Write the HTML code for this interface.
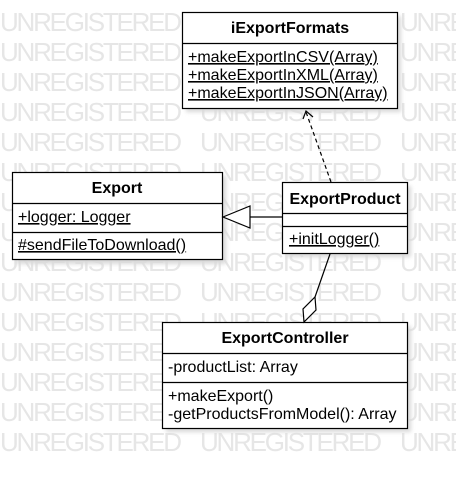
<!DOCTYPE html>
<html><head><style>
html,body{margin:0;padding:0;background:#fff;width:456px;height:478px;overflow:hidden}
svg{display:block}
.wm{font-family:"Liberation Sans",sans-serif;font-size:26px;fill:#e6e6e6}
.t{font-family:"Liberation Sans",sans-serif;font-size:16px;fill:#000}
.b{font-weight:bold;text-anchor:middle}
</style></head><body>
<svg width="456" height="478" viewBox="0 0 456 478" xmlns="http://www.w3.org/2000/svg">
<defs><filter id="sh" x="-10%" y="-10%" width="130%" height="130%"><feGaussianBlur stdDeviation="2"/></filter>
<g id="row"><text x="0" y="0" textLength="182" lengthAdjust="spacing">UNREGISTERED</text><text x="200" y="0" textLength="182" lengthAdjust="spacing">UNREGISTERED</text><text x="400" y="0" textLength="182" lengthAdjust="spacing">UNREGISTERED</text></g></defs>
<g class="wm">
<use href="#row" y="31"/><use href="#row" y="61"/><use href="#row" y="91"/><use href="#row" y="121"/><use href="#row" y="151"/><use href="#row" y="181"/><use href="#row" y="211"/><use href="#row" y="241"/><use href="#row" y="271"/><use href="#row" y="301"/><use href="#row" y="331"/><use href="#row" y="361"/><use href="#row" y="391"/><use href="#row" y="421"/><use href="#row" y="451"/>
</g>
<g fill="#d8d8d8" filter="url(#sh)">
<rect x="186" y="16" width="215" height="96"/>
<rect x="16" y="176" width="210" height="88"/>
<rect x="286" y="186" width="125" height="71"/>
<rect x="166" y="326" width="245" height="106"/>
</g>
<g stroke="#000" stroke-width="1.2" fill="#fff">
<rect x="182.5" y="12.5" width="215" height="96"/>
<line x1="182" y1="43.5" x2="397" y2="43.5"/>
<rect x="12.5" y="172.5" width="210" height="87"/>
<line x1="12" y1="203.5" x2="222" y2="203.5"/>
<line x1="12" y1="232.5" x2="222" y2="232.5"/>
<rect x="282.5" y="182.5" width="125" height="71"/>
<line x1="282" y1="213.5" x2="407" y2="213.5"/>
<line x1="282" y1="226.5" x2="407" y2="226.5"/>
<rect x="162.5" y="322.5" width="245" height="106"/>
<line x1="162" y1="353.5" x2="407" y2="353.5"/>
<line x1="162" y1="382.5" x2="407" y2="382.5"/>
</g>
<g class="t">
<text class="b" x="290" y="33">iExportFormats</text>
<text x="188" y="62" text-decoration="underline">+makeExportInCSV(Array)</text>
<text x="188" y="80" text-decoration="underline">+makeExportInXML(Array)</text>
<text x="188" y="98" text-decoration="underline">+makeExportInJSON(Array)</text>
<text class="b" x="117" y="193">Export</text>
<text x="18" y="222" text-decoration="underline">+logger: Logger</text>
<text x="18" y="250" text-decoration="underline">#sendFileToDownload()</text>
<text class="b" x="345" y="204">ExportProduct</text>
<text x="289" y="244" text-decoration="underline">+initLogger()</text>
<text class="b" x="285" y="343">ExportController</text>
<text x="168" y="372">-productList: Array</text>
<text x="168" y="401">+makeExport()</text>
<text x="168" y="419">-getProductsFromModel(): Array</text>
</g>
<g stroke="#000" stroke-width="1.2" fill="none">
<line x1="282" y1="217" x2="250" y2="217"/>
<polygon points="223,217 250,206 250,228" fill="#fff"/>
<line x1="331" y1="182" x2="306" y2="112" stroke-dasharray="4,3"/>
<polyline points="303,119 306,111 313,117"/>
<line x1="330" y1="254" x2="315" y2="297"/>
<polygon points="315,297 316,310 304,322 303,309" fill="#fff"/>
</g>
</svg>
</body></html>
